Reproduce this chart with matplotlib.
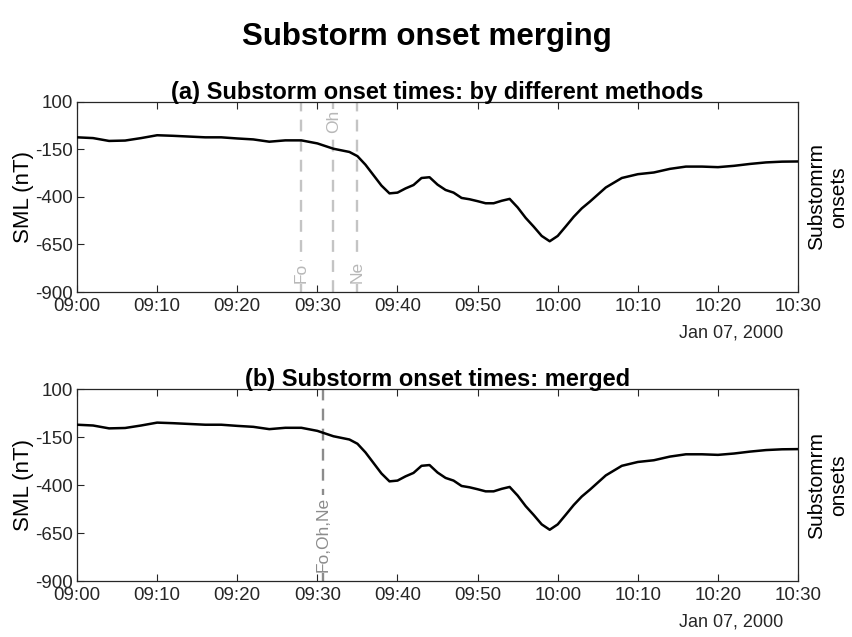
import numpy as np
import pandas as pd
import matplotlib
matplotlib.use("Agg")
import matplotlib.pyplot as plt
import matplotlib.dates as mdates

plt.rcParams['font.family'] = ['Liberation Sans', 'DejaVu Sans']
plt.rcParams['axes.unicode_minus'] = False

# SML index, minutes after 09:00 on 2000-01-07
minutes = [0, 2, 4, 6, 8, 10, 12, 14, 16, 18, 20, 22, 24, 26, 28, 30, 32, 34, 35,
           36, 37, 38, 39, 40, 41, 42, 43, 44, 45, 46, 47, 48, 49, 50, 51, 52, 53,
           54, 55, 56, 57, 58, 59, 60, 61, 62, 63, 64, 66, 68, 70, 72, 74, 76, 78,
           80, 82, 84, 86, 88, 90]
sml = [-86, -90, -105, -103, -90, -75, -78, -82, -86, -86, -92, -97, -109, -102,
       -102, -118, -146, -163, -185, -230, -285, -340, -381, -377, -355, -337,
       -300, -296, -335, -363, -377, -405, -412, -422, -433, -433, -420, -410,
       -455, -510, -556, -605, -633, -605, -555, -504, -460, -425, -350, -300,
       -280, -271, -252, -240, -240, -243, -236, -226, -218, -214, -213]

# onset times from each method (minutes after 09:00)
methods = ["Fo", "Oh", "Ne"]
method_onsets = [28, 32, 35]
method_label_top = [False, True, False]
merged_label = "Fo,Oh,Ne"
merged_onset = 30.7

yticks = [100, -150, -400, -650, -900]

t0 = pd.Timestamp("2000-01-07 09:00")
times = t0 + pd.to_timedelta(minutes, unit="min")

fig = plt.figure(figsize=(8.53, 6.37), dpi=100)
fig.text(0.5, 0.942, "Substorm onset merging", ha="center", va="center",
         fontsize=22.5, fontweight="bold")

ax_a = fig.add_axes([0.0903, 0.5416, 0.8453, 0.2983])
ax_b = fig.add_axes([0.0903, 0.0879, 0.8453, 0.3014])


def setup(ax, title):
    ax.plot(times, sml, color="black", lw=1.8, zorder=3)
    ax.set_xlim(t0, t0 + pd.Timedelta(minutes=90))
    ax.set_ylim(-900, 100)
    ax.set_yticks(yticks)
    ax.xaxis.set_major_locator(mdates.MinuteLocator(byminute=range(0, 60, 10)))
    ax.xaxis.set_major_formatter(mdates.DateFormatter("%H:%M"))
    ax.tick_params(direction="in", top=True, right=False, labelsize=13.5,
                   length=5, width=0.8, colors="#262626")
    ax.tick_params(axis="x", pad=4)
    ax.tick_params(axis="y", pad=3)
    for s in ax.spines.values():
        s.set_color("#262626")
        s.set_linewidth(0.9)
    ax.set_ylabel("SML (nT)", fontsize=16, labelpad=1)
    ax.set_title(title, fontsize=17, fontweight="bold", pad=2)
    ax.text(0.979, -0.215, "Jan 07, 2000", transform=ax.transAxes,
            ha="right", va="center", fontsize=13, color="#262626")
    ax.text(1.041, 0.5, "Substomrm\nonsets", transform=ax.transAxes,
            rotation=90, ha="center", va="center", fontsize=15,
            multialignment="center", linespacing=1.15)


setup(ax_a, "(a) Substorm onset times: by different methods")
setup(ax_b, "(b) Substorm onset times: merged")

box = dict(facecolor="white", edgecolor="none", pad=1)
for name, m, top in zip(methods, method_onsets, method_label_top):
    t = t0 + pd.Timedelta(minutes=m)
    ax_a.axvline(t, color="#c4c4c4", lw=1.7, ls=(0, (5, 3.5)), zorder=2)
    ax_a.text(t, 0.958 if top else 0.047, name,
              transform=ax_a.get_xaxis_transform(), rotation=90,
              ha="center", va="top" if top else "bottom",
              fontsize=12.5, color="#b8b8b8", bbox=box, zorder=2.5)

t = t0 + pd.Timedelta(minutes=merged_onset)
ax_b.axvline(t, color="#8c8c8c", lw=1.7, ls=(0, (5, 3.5)), zorder=2)
ax_b.text(t, 0.047, merged_label, transform=ax_b.get_xaxis_transform(),
          rotation=90, ha="center", va="bottom", fontsize=12.5,
          color="#8c8c8c", bbox=box, zorder=2.5)

fig.savefig("out.png", dpi=100)
